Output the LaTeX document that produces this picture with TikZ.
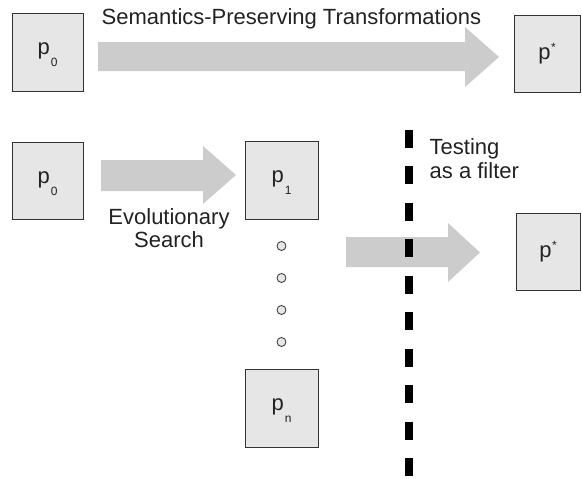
\documentclass[tikz,border=0pt]{standalone}
\usepackage{fontspec}
\setmainfont{Liberation Sans}
\definecolor{boxfill}{HTML}{E6E6E6}
\definecolor{boxline}{HTML}{333333}
\definecolor{arrowfill}{HTML}{CCCCCC}
\definecolor{ink}{HTML}{222222}
\newcommand{\progsub}[1]{\fontsize{22}{22}\selectfont p\kern1pt\raisebox{-12pt}{\fontsize{12}{12}\selectfont #1}}
\newcommand{\progstar}{\fontsize{22}{22}\selectfont p\kern0.5pt\raisebox{8pt}{\fontsize{12}{12}\selectfont *}}
\tikzset{
  prog/.style={draw=boxline, fill=boxfill, line width=1pt, inner sep=0pt, text=ink,
    minimum width=72pt, minimum height=78pt, text height=10pt, text depth=5pt},
  progstarbox/.style={prog, text height=13pt, text depth=1pt},
  lbl/.style={inner sep=0pt, text=ink, font=\fontsize{22}{23.4}\selectfont},
  blockarrow/.style={fill=arrowfill},
  dotnode/.style={circle, draw=boxline, fill=boxfill, line width=0.8pt, minimum size=9pt, inner sep=0pt},
  filterline/.style={line width=8pt, dash pattern=on 18pt off 18.5pt, black}
}
\begin{document}
\begin{tikzpicture}[x=1pt,y=-1pt]
\useasboundingbox (0,0) rectangle (582,479);
% top row
\node[prog, minimum width=71pt] (p0a) at (47.5,52) {\progsub{0}};
\node[progstarbox, minimum width=66pt, minimum height=77pt] (psa) at (547,53.5) {\progstar};
\fill[blockarrow] (98,42) -- (465,42) -- (465,27) -- (499,57) -- (465,87) -- (465,71) -- (98,71) -- cycle;
\node[lbl, anchor=base west] (title) at (101.5,24) {Semantics-Preserving Transformations};
% bottom part
\node[prog, minimum width=71pt, minimum height=77pt] (p0b) at (47.5,180.5) {\progsub{0}};
\node[prog, minimum width=73pt] (p1) at (281.5,180) {\progsub{1}};
\node[prog, minimum width=73pt] (pn) at (281.5,408) {\progsub{n}};
\node[progstarbox, minimum width=64pt, minimum height=77pt] (psb) at (548,251.5) {\progstar};
\fill[blockarrow] (101,160) -- (203,160) -- (203,146) -- (236,175) -- (203,204) -- (203,191) -- (101,191) -- cycle;
\node[lbl, align=center, anchor=base] (evo) at (169,247.7) {Evolutionary\\Search};
\node[dotnode] (d1) at (281.5,246) {};
\node[dotnode] (d2) at (281.5,278) {};
\node[dotnode] (d3) at (281.5,310) {};
\node[dotnode] (d4) at (281.5,342) {};
\fill[blockarrow] (346,237) -- (448,237) -- (448,223) -- (480,252.5) -- (448,282) -- (448,267) -- (346,267) -- cycle;
\coordinate (ftop) at (409,129.5);
\coordinate (fbot) at (409,478);
\draw[filterline] (ftop) -- (fbot);
\node[lbl, align=left, anchor=base west] (test) at (429.5,178) {Testing\\as a filter};
\end{tikzpicture}
\end{document}
